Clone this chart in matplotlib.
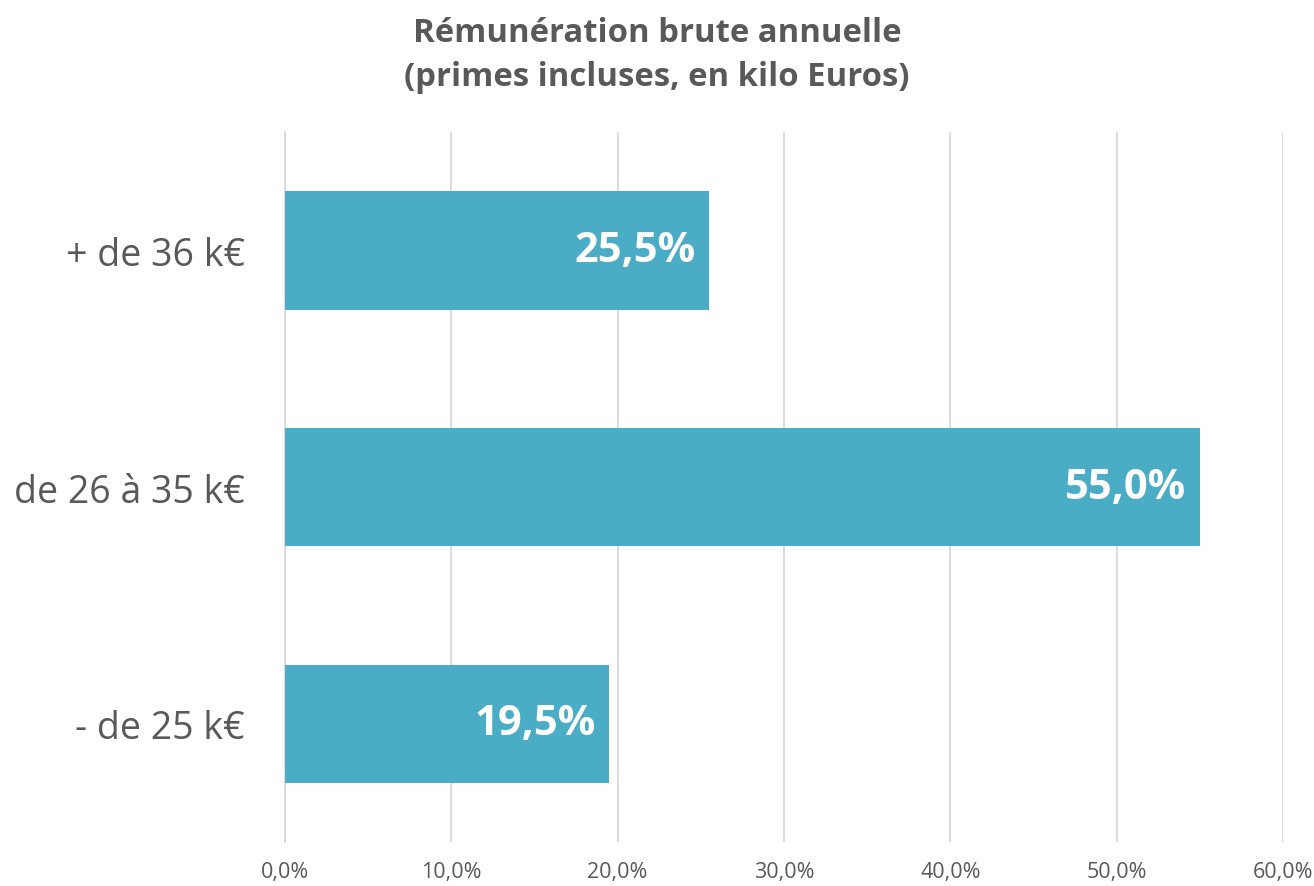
import matplotlib.pyplot as plt
from matplotlib.ticker import FuncFormatter

# Data
categories = ['- de 25 k€', 'de 26 à 35 k€', '+ de 36 k€']
values = [19.5, 55.0, 25.5]
xticks = [0, 10, 20, 30, 40, 50, 60]

BAR_COLOR = '#4BACC6'
TEXT_COLOR = '#595959'
GRID_COLOR = '#D9D9D9'

plt.rcParams['font.family'] = ['Open Sans', 'DejaVu Sans']

fig = plt.figure(figsize=(13.14, 8.87), dpi=100)
ax = fig.add_axes([0.2169, 0.0496, 0.7595, 0.8004])

y = list(range(len(categories)))
ax.barh(y, values, height=0.5, color=BAR_COLOR, zorder=3)

for yi, v in zip(y, values):
    label = f"{v:.1f}%".replace('.', ',')
    ax.annotate(label, xy=(v, yi), xytext=(-10, 0), textcoords='offset points',
                ha='right', va='center', color='white', fontsize=30,
                fontweight='bold', zorder=4)

ax.set_xlim(0, 60)
ax.set_ylim(-0.5, 2.5)
ax.set_xticks(xticks)
ax.xaxis.set_major_formatter(FuncFormatter(lambda v, p: f"{v:.1f}%".replace('.', ',')))
ax.set_yticks(y)
ax.set_yticklabels(categories)

ax.tick_params(axis='x', length=0, labelsize=15.5, labelcolor=TEXT_COLOR, pad=14)
ax.tick_params(axis='y', length=0, labelsize=27, labelcolor=TEXT_COLOR, pad=29)

ax.grid(axis='x', color=GRID_COLOR, linewidth=1.3, zorder=0)
for s in ['top', 'right', 'bottom']:
    ax.spines[s].set_visible(False)
ax.spines['left'].set_color(GRID_COLOR)
ax.spines['left'].set_linewidth(1.3)

fig.text(0.5, 0.981, 'Rémunération brute annuelle\n(primes incluses, en kilo Euros)',
         ha='center', va='top', fontsize=23.7, fontweight='bold',
         color=TEXT_COLOR, linespacing=1.45)

fig.savefig('out.png', dpi=100)
